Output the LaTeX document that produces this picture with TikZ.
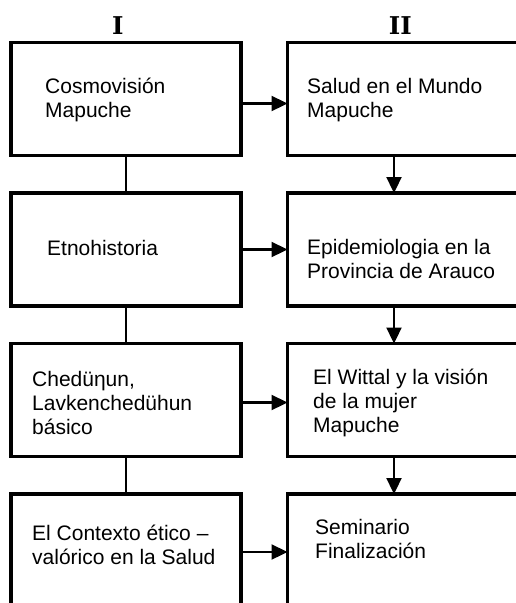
\documentclass[tikz,border=0pt]{standalone}
\usepackage{fontspec}
\setmainfont{Liberation Sans}
\newfontfamily\headfont{DejaVu Serif}
\usetikzlibrary{arrows.meta}
\begin{document}
\begin{tikzpicture}[x=1pt,y=-1pt,
  box/.style={draw,line width=3.2pt,minimum width=230pt,minimum height=113pt,inner sep=0pt,outer sep=0pt},
  txt/.style={anchor=base west,align=left,inner sep=0pt,font=\fontsize{21}{24}\selectfont},
  head/.style={anchor=base,inner sep=0pt,font=\headfont\bfseries\fontsize{24.5}{24.5}\selectfont},
  link/.style={line width=2.3pt},
  arr/.style={line width=2.3pt,-{Triangle[length=16pt,width=15pt]}}]
\useasboundingbox (0,0) rectangle (516,603);
\clip (0,0) rectangle (516,603);
% column I
\node[box] (a1) at (126,99) {};
\node[box] (a2) at (126,249.5) {};
\node[box] (a3) at (126,400) {};
\node[box] (a4) at (126,550.5) {};
% column II
\node[box] (b1) at (402.5,99) {};
\node[box] (b2) at (402.5,249.5) {};
\node[box] (b3) at (402.5,400) {};
\node[box] (b4) at (402.5,550.5) {};
\node[head] (h1) at (117.8,34) {I};
\node[head] (h2) at (400.3,34) {II};
% texts (base = last line)
\node[txt] (t1) at ([shift={(34,74.5)}]a1.north west) {Cosmovisión\\Mapuche};
\node[txt] (t2) at ([shift={(36,62)}]a2.north west) {Etnohistoria};
\node[txt] (t3) at ([shift={(21,90.5)}]a3.north west) {Chedüηun,\\Lavkenchedühun\\básico};
\node[txt] (t4) at ([shift={(21,70)}]a4.north west) {El Contexto ético –\\valórico en la Salud};
\node[txt] (t5) at ([shift={(19.5,74.5)}]b1.north west) {Salud en el Mundo\\Mapuche};
\node[txt] (t6) at ([shift={(19.5,85)}]b2.north west) {Epidemiologia en la\\Provincia de Arauco};
\node[txt] (t7) at ([shift={(25.5,88.5)}]b3.north west) {El Wittal y la visión\\de la mujer\\Mapuche};
\node[txt] (t8) at ([shift={(27.5,64)}]b4.north west) {Seminario\\Finalización};
% connectors
\draw[link] (a1) -- (a2);
\draw[link] (a2) -- (a3);
\draw[link] (a3) -- (a4);
\draw[arr] ([shift={(0,4.5)}]a1.east) -- ([shift={(0,4.5)}]b1.west);
\draw[arr] (a2.east) -- (b2.west);
\draw[arr] ([shift={(0,2.5)}]a3.east) -- ([shift={(0,2.5)}]b3.west);
\draw[arr] ([shift={(0,1.5)}]a4.east) -- ([shift={(0,1.5)}]b4.west);
\draw[arr] ([shift={(-8.5,0)}]b1.south) -- ([shift={(-8.5,0)}]b2.north);
\draw[arr] ([shift={(-8.5,0)}]b2.south) -- ([shift={(-8.5,0)}]b3.north);
\draw[arr] ([shift={(-8.5,0)}]b3.south) -- ([shift={(-8.5,0)}]b4.north);
\end{tikzpicture}
\end{document}
